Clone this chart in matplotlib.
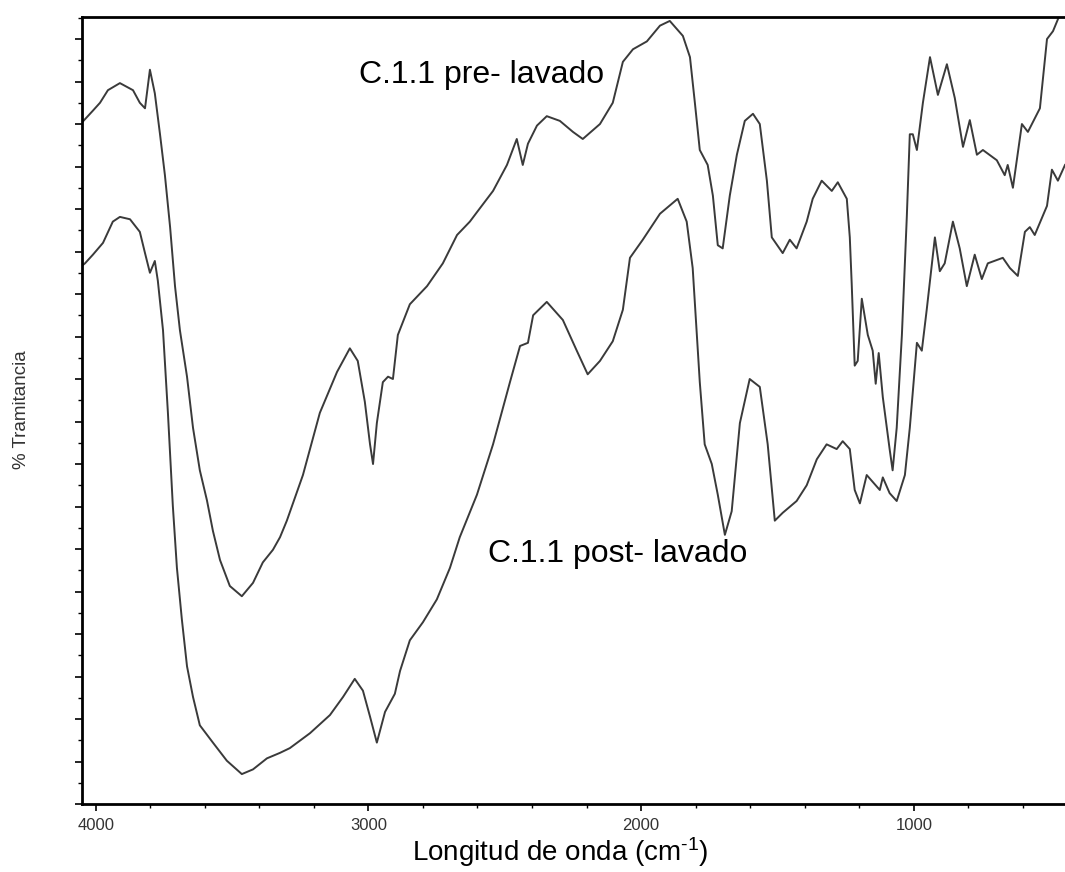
import matplotlib.pyplot as plt
from matplotlib.ticker import MultipleLocator

plt.rcParams['font.family'] = ['Liberation Sans', 'DejaVu Sans']
plt.rcParams['mathtext.fontset'] = 'custom'
plt.rcParams['mathtext.rm'] = 'Liberation Sans'
plt.rcParams['mathtext.it'] = 'Liberation Sans:italic'

# espectro C.1.1 antes del lavado (numero de onda, % transmitancia)
onda_pre = [4050, 4010, 3984, 3955, 3911, 3863, 3838, 3819, 3801, 3783, 3764, 3746,
            3727, 3709, 3691, 3665, 3643, 3618, 3592, 3570, 3544, 3508, 3464, 3423,
            3387, 3350, 3324, 3299, 3240, 3178, 3115, 3068, 3039, 3013, 2994, 2983,
            2969, 2947, 2928, 2910, 2892, 2848, 2785, 2727, 2675, 2628, 2602, 2543,
            2492, 2456, 2434, 2415, 2382, 2346, 2298, 2250, 2214, 2151, 2104, 2067,
            2030, 1979, 1931, 1895, 1847, 1821, 1803, 1785, 1756, 1737, 1719, 1701,
            1675, 1649, 1620, 1590, 1565, 1539, 1521, 1481, 1455, 1430, 1393, 1371,
            1338, 1301, 1279, 1246, 1235, 1228, 1217, 1206, 1191, 1169, 1151, 1140,
            1129, 1114, 1089, 1078, 1063, 1044, 1026, 1015, 1004, 989, 967, 941,
            912, 879, 850, 820, 795, 769, 747, 696, 667, 656, 637, 604, 582, 538,
            512, 490, 465, 446]
trans_pre = [86.6, 88.1, 89.1, 90.7, 91.6, 90.7, 89.1, 88.4, 93.3, 90.3, 85.1, 79.9,
             73.3, 65.8, 60.2, 54.3, 47.8, 42.4, 38.6, 34.7, 31.0, 27.7, 26.4, 28.1,
             30.7, 32.3, 33.9, 36.0, 41.8, 49.7, 54.9, 57.9, 56.3, 51.1, 45.7, 43.2,
             48.4, 53.6, 54.3, 54.0, 59.6, 63.5, 65.8, 68.7, 72.3, 74.0, 75.2, 77.9,
             81.2, 84.5, 81.2, 83.9, 86.2, 87.4, 86.8, 85.4, 84.5, 86.4, 89.1, 94.3,
             95.9, 96.9, 98.9, 99.5, 97.6, 94.9, 89.1, 83.1, 81.2, 77.3, 71.0, 70.6,
             77.3, 82.5, 86.8, 87.7, 86.4, 79.2, 72.0, 70.0, 71.7, 70.6, 74.0, 76.9,
             79.2, 77.9, 79.0, 76.9, 72.0, 66.1, 55.7, 56.3, 64.2, 59.6, 57.6, 53.4,
             57.3, 51.7, 45.1, 42.4, 47.8, 59.6, 74.6, 85.1, 85.1, 83.1, 89.1, 94.9,
             90.1, 94.0, 89.7, 83.5, 86.9, 82.5, 83.1, 81.8, 79.9, 81.2, 78.3, 86.4,
             85.4, 88.4, 97.2, 98.2, 100.3, 100.6]

# espectro C.1.1 despues del lavado
onda_post = [4050, 4039, 4010, 3973, 3937, 3911, 3874, 3838, 3819, 3801, 3783, 3772,
             3753, 3735, 3717, 3702, 3684, 3665, 3643, 3618, 3570, 3519, 3464, 3423,
             3372, 3324, 3288, 3214, 3141, 3093, 3050, 3020, 2994, 2969, 2939, 2903,
             2884, 2848, 2800, 2749, 2701, 2665, 2602, 2543, 2481, 2444, 2415, 2396,
             2346, 2287, 2236, 2196, 2151, 2104, 2067, 2041, 1994, 1931, 1866, 1833,
             1811, 1785, 1767, 1741, 1719, 1693, 1668, 1638, 1602, 1565, 1536, 1510,
             1481, 1430, 1393, 1356, 1320, 1283, 1261, 1235, 1217, 1198, 1173, 1125,
             1114, 1089, 1063, 1033, 1015, 989, 971, 953, 923, 905, 887, 857, 832,
             806, 777, 751, 729, 674, 648, 619, 593, 575, 557, 512, 494, 472, 446]
trans_post = [68.4, 68.7, 69.8, 71.3, 74.0, 74.6, 74.3, 72.7, 70.0, 67.5, 69.0, 66.5,
              60.2, 49.7, 37.9, 30.0, 23.5, 17.5, 13.6, 10.0, 7.8, 5.5, 3.8, 4.4,
              5.8, 6.5, 7.1, 9.0, 11.3, 13.6, 15.9, 14.4, 11.1, 7.8, 11.7, 14.0,
              16.9, 20.8, 23.1, 26.0, 30.0, 33.9, 39.3, 45.7, 53.6, 58.2, 58.6, 62.1,
              63.8, 61.5, 57.6, 54.6, 56.3, 58.8, 62.8, 69.4, 71.7, 75.0, 76.9, 74.0,
              68.1, 53.6, 45.7, 43.2, 39.3, 34.2, 37.2, 48.4, 54.0, 53.0, 45.7, 36.0,
              37.0, 38.5, 40.5, 43.8, 45.7, 45.1, 46.1, 45.1, 39.9, 38.2, 41.8, 39.9,
              41.5, 39.5, 38.5, 41.8, 47.8, 58.6, 57.6, 62.8, 72.0, 67.7, 68.7, 74.0, 70.6,
              65.8, 69.8, 66.7, 68.7, 69.4, 68.1, 67.1, 72.7, 73.3, 72.3, 76.0, 80.6, 79.2, 81.2]

fig = plt.figure(figsize=(10.65, 8.72), dpi=100)
ax = fig.add_axes([82 / 1065, 1 - 804 / 872, 983 / 1065, 787 / 872])

ax.plot(onda_pre, trans_pre, color='#3a3a3a', lw=1.4)
ax.plot(onda_post, trans_post, color='#3a3a3a', lw=1.4)

ax.set_xlim(4050, 446)
ax.set_ylim(0, 100)

ax.xaxis.set_major_locator(MultipleLocator(1000))
ax.xaxis.set_minor_locator(MultipleLocator(200))
ax.yaxis.set_major_locator(MultipleLocator(5.4))
ax.yaxis.set_minor_locator(MultipleLocator(2.7))
ax.set_yticklabels([])
ax.tick_params(axis='x', which='major', direction='out', length=5, width=1.2,
               labelsize=12, labelcolor='#333333', pad=5)
ax.tick_params(axis='x', which='minor', direction='out', length=3, width=1)
ax.tick_params(axis='y', which='major', direction='out', length=5, width=1.2)
ax.tick_params(axis='y', which='minor', direction='out', length=3, width=1)

for s in ['left', 'top', 'bottom']:
    ax.spines[s].set_linewidth(2)
    ax.spines[s].set_color('black')
ax.spines['right'].set_visible(False)

ax.text(3035, 91.6, 'C.1.1 pre- lavado', fontsize=23, va='baseline', ha='left')
ax.text(2562, 30.7, 'C.1.1 post- lavado', fontsize=23, va='baseline', ha='left')

fig.text(560 / 1065, 1 - 852 / 872, r'Longitud de onda (cm$^{\text{-1}}$)', fontsize=20,
         ha='center', va='center')
fig.text(22 / 1065, 1 - 410 / 872, '% Tramitancia', fontsize=13.5, rotation=90,
         ha='center', va='center', color='#333333')

fig.savefig('out.png', dpi=100)
